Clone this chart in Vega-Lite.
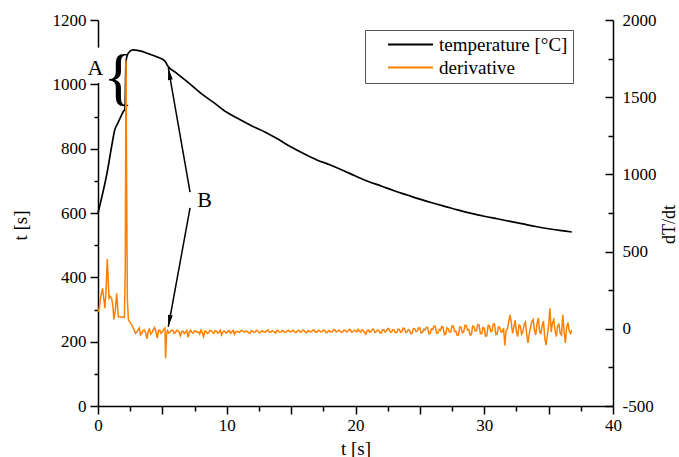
{
  "$schema": "https://vega.github.io/schema/vega-lite/v6.json",
  "width": 515,
  "height": 386,
  "autosize": {"type": "none"},
  "padding": {"left": 98, "top": 20, "right": 66, "bottom": 51},
  "background": "white",
  "config": {
    "font": "Liberation Serif",
    "view": {"stroke": null},
    "axis": {
      "grid": false,
      "domainColor": "black",
      "tickColor": "black",
      "labelColor": "black",
      "titleColor": "black",
      "labelFont": "Liberation Serif",
      "titleFont": "Liberation Serif",
      "labelFontSize": 17,
      "titleFontSize": 18,
      "titleFontWeight": "normal",
      "domainWidth": 1.5,
      "tickWidth": 1.5
    }
  },
  "datasets": {
    "temp": [
      {"t": 0, "T": 600}, {"t": 0.3, "T": 650}, {"t": 0.7, "T": 724}, {"t": 1.05, "T": 805},
      {"t": 1.3, "T": 858}, {"t": 1.55, "T": 880}, {"t": 1.95, "T": 914}, {"t": 2.1, "T": 926},
      {"t": 2.17, "T": 1070}, {"t": 2.35, "T": 1097}, {"t": 2.7, "T": 1107}, {"t": 3.25, "T": 1104},
      {"t": 4.0, "T": 1094}, {"t": 4.6, "T": 1085}, {"t": 5.2, "T": 1072}, {"t": 5.4, "T": 1058},
      {"t": 6, "T": 1038}, {"t": 7, "T": 1006}, {"t": 8, "T": 972}, {"t": 9, "T": 943},
      {"t": 10, "T": 913}, {"t": 11, "T": 891}, {"t": 12, "T": 870}, {"t": 13, "T": 851},
      {"t": 14, "T": 829}, {"t": 15, "T": 805}, {"t": 16, "T": 784}, {"t": 17, "T": 765},
      {"t": 18, "T": 750}, {"t": 19, "T": 733}, {"t": 20, "T": 715}, {"t": 21, "T": 698},
      {"t": 22, "T": 684}, {"t": 23, "T": 669}, {"t": 24, "T": 656}, {"t": 25, "T": 643},
      {"t": 26, "T": 631}, {"t": 27, "T": 620}, {"t": 28, "T": 609}, {"t": 29, "T": 599},
      {"t": 30, "T": 590}, {"t": 31, "T": 582}, {"t": 32, "T": 574}, {"t": 33, "T": 566},
      {"t": 34, "T": 558}, {"t": 35, "T": 551}, {"t": 36, "T": 545}, {"t": 36.8, "T": 541}
    ],
    "deriv": [
      {"t": 0, "D": 110}, {"t": 0.1, "D": 133}, {"t": 0.2, "D": 200}, {"t": 0.36, "D": 262},
      {"t": 0.45, "D": 190}, {"t": 0.54, "D": 133}, {"t": 0.63, "D": 260}, {"t": 0.72, "D": 452},
      {"t": 0.8, "D": 300}, {"t": 0.86, "D": 197}, {"t": 0.95, "D": 210}, {"t": 1.06, "D": 197},
      {"t": 1.15, "D": 150}, {"t": 1.24, "D": 61}, {"t": 1.35, "D": 120}, {"t": 1.45, "D": 230},
      {"t": 1.52, "D": 150}, {"t": 1.58, "D": 78}, {"t": 1.8, "D": 76}, {"t": 2.05, "D": 74},
      {"t": 2.12, "D": 400}, {"t": 2.17, "D": 1740}, {"t": 2.22, "D": 1000}, {"t": 2.28, "D": 200},
      {"t": 2.36, "D": 57}, {"t": 2.5, "D": 40}, {"t": 2.62, "D": 25}, {"t": 2.7, "D": 10},
      {"t": 2.8, "D": -5}, {"t": 2.9, "D": -30},
      {"t": 3.0, "D": -22}, {"t": 3.1, "D": -8}, {"t": 3.2, "D": 5}, {"t": 3.3, "D": -40}, {"t": 3.4, "D": -30},
      {"t": 3.5, "D": -12}, {"t": 3.6, "D": -8}, {"t": 3.7, "D": -25}, {"t": 3.8, "D": -65}, {"t": 3.9, "D": -15},
      {"t": 4.0, "D": -2}, {"t": 4.1, "D": -35}, {"t": 4.2, "D": -25}, {"t": 4.3, "D": -5}, {"t": 4.4, "D": 8},
      {"t": 4.5, "D": -20}, {"t": 4.6, "D": -60}, {"t": 4.7, "D": -10}, {"t": 4.8, "D": -10}, {"t": 4.9, "D": -30},
      {"t": 5.0, "D": -20}, {"t": 5.1, "D": -5}, {"t": 5.2, "D": 5}, {"t": 5.25, "D": -190}, {"t": 5.32, "D": -40},
      {"t": 5.4, "D": -12}, {"t": 5.5, "D": -28}, {"t": 5.6, "D": -20}, {"t": 5.7, "D": -10}, {"t": 5.8, "D": -8}, {"t": 5.9, "D": -30},
      {"t": 6.0, "D": -25}, {"t": 6.1, "D": -10}, {"t": 6.2, "D": -12}, {"t": 6.3, "D": -20}, {"t": 6.4, "D": -45},
      {"t": 6.5, "D": -18}, {"t": 6.6, "D": -15}, {"t": 6.7, "D": -30}, {"t": 6.8, "D": -22}, {"t": 6.9, "D": -12},
      {"t": 7.0, "D": -55}, {"t": 7.1, "D": -20}, {"t": 7.2, "D": -10}, {"t": 7.3, "D": -25}, {"t": 7.4, "D": -28},
      {"t": 7.5, "D": -12}, {"t": 7.6, "D": -15}, {"t": 7.7, "D": -22}, {"t": 7.8, "D": -20}, {"t": 7.9, "D": -35},
      {"t": 8.0, "D": -8}, {"t": 8.1, "D": -25}, {"t": 8.2, "D": -50}, {"t": 8.3, "D": -14}, {"t": 8.4, "D": -18},
      {"t": 8.5, "D": -30}, {"t": 8.6, "D": -25}, {"t": 8.7, "D": -10}, {"t": 8.8, "D": -12}, {"t": 8.9, "D": -22},
      {"t": 9.0, "D": -30}, {"t": 9.1, "D": -12}, {"t": 9.2, "D": -15}, {"t": 9.3, "D": -28}, {"t": 9.4, "D": -22},
      {"t": 9.5, "D": -10}, {"t": 9.6, "D": -40}, {"t": 9.7, "D": -20}, {"t": 9.8, "D": -14}, {"t": 9.9, "D": -24},
      {"t": 10.0, "D": -26}, {"t": 10.1, "D": -14}, {"t": 10.2, "D": -12}, {"t": 10.3, "D": -30}, {"t": 10.4, "D": -20},
      {"t": 10.5, "D": -10}, {"t": 10.6, "D": -35}, {"t": 10.7, "D": -18}, {"t": 10.8, "D": -16}, {"t": 10.9, "D": -22},
      {"t": 11.0, "D": -24}, {"t": 11.1, "D": -12}, {"t": 11.2, "D": -10}, {"t": 11.3, "D": -20}, {"t": 11.4, "D": -22},
      {"t": 11.5, "D": -14}, {"t": 11.6, "D": -18}, {"t": 11.7, "D": -26}, {"t": 11.8, "D": -30}, {"t": 11.9, "D": -12},
      {"t": 12.0, "D": -14}, {"t": 12.1, "D": -24}, {"t": 12.2, "D": -22}, {"t": 12.3, "D": -10}, {"t": 12.4, "D": -12},
      {"t": 12.5, "D": -26}, {"t": 12.6, "D": -25}, {"t": 12.7, "D": -14}, {"t": 12.8, "D": -16}, {"t": 12.9, "D": -20},
      {"t": 13.0, "D": -20}, {"t": 13.1, "D": -12}, {"t": 13.2, "D": -8}, {"t": 13.3, "D": -22}, {"t": 13.4, "D": -24},
      {"t": 13.5, "D": -14}, {"t": 13.6, "D": -14}, {"t": 13.7, "D": -20}, {"t": 13.8, "D": -28}, {"t": 13.9, "D": -10},
      {"t": 14.0, "D": -12}, {"t": 14.1, "D": -22}, {"t": 14.2, "D": -20}, {"t": 14.3, "D": -10}, {"t": 14.4, "D": -15},
      {"t": 14.5, "D": -24}, {"t": 14.6, "D": -22}, {"t": 14.7, "D": -12}, {"t": 14.8, "D": -10}, {"t": 14.9, "D": -20},
      {"t": 15.0, "D": -18}, {"t": 15.1, "D": -10}, {"t": 15.2, "D": -14}, {"t": 15.3, "D": -22}, {"t": 15.4, "D": -24},
      {"t": 15.5, "D": -12}, {"t": 15.6, "D": -10}, {"t": 15.7, "D": -20}, {"t": 15.8, "D": -20}, {"t": 15.9, "D": -8},
      {"t": 16.0, "D": -12}, {"t": 16.1, "D": -22}, {"t": 16.2, "D": -26}, {"t": 16.3, "D": -12}, {"t": 16.4, "D": -14},
      {"t": 16.5, "D": -20}, {"t": 16.6, "D": -18}, {"t": 16.7, "D": -8}, {"t": 16.8, "D": -8}, {"t": 16.9, "D": -22},
      {"t": 17.0, "D": -22}, {"t": 17.1, "D": -10}, {"t": 17.2, "D": -12}, {"t": 17.3, "D": -20}, {"t": 17.4, "D": -18},
      {"t": 17.5, "D": -8}, {"t": 17.6, "D": -10}, {"t": 17.7, "D": -24}, {"t": 17.8, "D": -24}, {"t": 17.9, "D": -12},
      {"t": 18.0, "D": -14}, {"t": 18.1, "D": -22}, {"t": 18.2, "D": -20}, {"t": 18.3, "D": -6}, {"t": 18.4, "D": -8},
      {"t": 18.5, "D": -20}, {"t": 18.6, "D": -16}, {"t": 18.7, "D": -10}, {"t": 18.8, "D": -12}, {"t": 18.9, "D": -24},
      {"t": 19.0, "D": -22}, {"t": 19.1, "D": -8}, {"t": 19.2, "D": -10}, {"t": 19.3, "D": -20}, {"t": 19.4, "D": -18},
      {"t": 19.5, "D": -4}, {"t": 19.6, "D": -6}, {"t": 19.7, "D": -22}, {"t": 19.8, "D": -20}, {"t": 19.9, "D": -10},
      {"t": 20.0, "D": -12}, {"t": 20.1, "D": -20}, {"t": 20.2, "D": -4}, {"t": 20.3, "D": -14}, {"t": 20.4, "D": -22},
      {"t": 20.5, "D": -6}, {"t": 20.6, "D": -10}, {"t": 20.7, "D": -24}, {"t": 20.8, "D": -35}, {"t": 20.9, "D": -12},
      {"t": 21.0, "D": -8}, {"t": 21.1, "D": -22}, {"t": 21.2, "D": -18}, {"t": 21.3, "D": -4}, {"t": 21.4, "D": -2},
      {"t": 21.5, "D": -24}, {"t": 21.6, "D": -20}, {"t": 21.7, "D": -8}, {"t": 21.8, "D": -10}, {"t": 21.9, "D": -26},
      {"t": 22.0, "D": -28}, {"t": 22.1, "D": -6}, {"t": 22.2, "D": -6}, {"t": 22.3, "D": -22}, {"t": 22.4, "D": -16},
      {"t": 22.5, "D": 2}, {"t": 22.6, "D": 0}, {"t": 22.7, "D": -20}, {"t": 22.8, "D": -22}, {"t": 22.9, "D": -6},
      {"t": 23.0, "D": -8}, {"t": 23.1, "D": -26}, {"t": 23.2, "D": -25}, {"t": 23.3, "D": -2}, {"t": 23.4, "D": -4},
      {"t": 23.5, "D": -22}, {"t": 23.6, "D": -18}, {"t": 23.7, "D": 4}, {"t": 23.8, "D": 2}, {"t": 23.9, "D": -24},
      {"t": 24.0, "D": -20}, {"t": 24.1, "D": -6}, {"t": 24.2, "D": -10}, {"t": 24.3, "D": -32}, {"t": 24.4, "D": -30},
      {"t": 24.5, "D": 2}, {"t": 24.6, "D": 0}, {"t": 24.7, "D": -18}, {"t": 24.8, "D": -14}, {"t": 24.9, "D": 6},
      {"t": 25.0, "D": 5}, {"t": 25.1, "D": -28}, {"t": 25.2, "D": -25}, {"t": 25.3, "D": -2}, {"t": 25.4, "D": -8},
      {"t": 25.5, "D": 10}, {"t": 25.6, "D": 8}, {"t": 25.7, "D": -32}, {"t": 25.8, "D": -30}, {"t": 25.9, "D": 0},
      {"t": 26.0, "D": -5}, {"t": 26.1, "D": 18}, {"t": 26.2, "D": 15}, {"t": 26.3, "D": -30}, {"t": 26.4, "D": -28},
      {"t": 26.5, "D": -4}, {"t": 26.6, "D": -10}, {"t": 26.7, "D": 15}, {"t": 26.8, "D": 12}, {"t": 26.9, "D": -38},
      {"t": 27.0, "D": -35}, {"t": 27.1, "D": 6}, {"t": 27.2, "D": 2}, {"t": 27.3, "D": -22}, {"t": 27.4, "D": -20},
      {"t": 27.5, "D": 20}, {"t": 27.6, "D": 18}, {"t": 27.7, "D": -18}, {"t": 27.8, "D": -15}, {"t": 27.9, "D": -42},
      {"t": 28.0, "D": -40}, {"t": 28.1, "D": 12}, {"t": 28.2, "D": 10}, {"t": 28.3, "D": -25}, {"t": 28.4, "D": -22},
      {"t": 28.5, "D": 22}, {"t": 28.6, "D": 20}, {"t": 28.7, "D": -8}, {"t": 28.8, "D": -5}, {"t": 28.9, "D": -40},
      {"t": 29.0, "D": -38}, {"t": 29.1, "D": 18}, {"t": 29.2, "D": 15}, {"t": 29.3, "D": -15}, {"t": 29.4, "D": -12},
      {"t": 29.5, "D": 28}, {"t": 29.6, "D": 25}, {"t": 29.7, "D": -32}, {"t": 29.8, "D": -30}, {"t": 29.9, "D": 8},
      {"t": 30.0, "D": 5}, {"t": 30.1, "D": -48}, {"t": 30.2, "D": -45}, {"t": 30.3, "D": 22}, {"t": 30.4, "D": 20},
      {"t": 30.5, "D": -18}, {"t": 30.6, "D": -15}, {"t": 30.7, "D": 32}, {"t": 30.8, "D": 30}, {"t": 30.9, "D": -38},
      {"t": 31.0, "D": -35}, {"t": 31.1, "D": 12}, {"t": 31.2, "D": 10}, {"t": 31.3, "D": -22}, {"t": 31.4, "D": -20},
      {"t": 31.5, "D": 5}, {"t": 31.6, "D": -108}, {"t": 31.7, "D": -10}, {"t": 31.8, "D": 0}, {"t": 31.9, "D": 45},
      {"t": 32.0, "D": 90}, {"t": 32.1, "D": 40}, {"t": 32.2, "D": -30}, {"t": 32.3, "D": 10}, {"t": 32.4, "D": 55},
      {"t": 32.5, "D": -20}, {"t": 32.6, "D": -50}, {"t": 32.7, "D": 25}, {"t": 32.8, "D": 20}, {"t": 32.9, "D": -35},
      {"t": 33.0, "D": -20}, {"t": 33.1, "D": 30}, {"t": 33.2, "D": 45}, {"t": 33.3, "D": -40}, {"t": 33.4, "D": -92},
      {"t": 33.5, "D": -30}, {"t": 33.6, "D": 10}, {"t": 33.7, "D": 48}, {"t": 33.8, "D": 60}, {"t": 33.9, "D": -10},
      {"t": 34.0, "D": -40}, {"t": 34.1, "D": 35}, {"t": 34.2, "D": 70}, {"t": 34.3, "D": -20}, {"t": 34.4, "D": -30},
      {"t": 34.5, "D": 20}, {"t": 34.6, "D": 50}, {"t": 34.7, "D": -60}, {"t": 34.8, "D": -105}, {"t": 34.9, "D": -40},
      {"t": 35.0, "D": 20}, {"t": 35.1, "D": 133}, {"t": 35.2, "D": -20}, {"t": 35.3, "D": 40}, {"t": 35.4, "D": 60},
      {"t": 35.5, "D": -10}, {"t": 35.6, "D": -50}, {"t": 35.7, "D": 20}, {"t": 35.8, "D": 30}, {"t": 35.9, "D": -30},
      {"t": 36.0, "D": -40}, {"t": 36.1, "D": 90}, {"t": 36.2, "D": -20}, {"t": 36.3, "D": -92}, {"t": 36.4, "D": 10},
      {"t": 36.5, "D": 40}, {"t": 36.6, "D": -15}, {"t": 36.7, "D": -30}, {"t": 36.8, "D": -10}
    ],
    "notes": [
      {"t": -0.2, "T": 1051, "label": "A"},
      {"t": 8.27, "T": 639, "label": "B"}
    ],
    "noteBox": [
      {"t": -0.95, "t2": 0.55, "T": 1004, "T2": 1114}
    ],
    "brace": [
      {"t": 1.6, "T": 1017, "label": "{"}
    ],
    "arrows": [
      {"id": 1, "t": 7.15, "T": 665, "t2": 5.46, "T2": 1051},
      {"id": 2, "t": 7.15, "T": 616, "t2": 5.46, "T2": 246}
    ]
  },
  "layer": [
    {
      "layer": [
        {
          "data": {"name": "temp"},
          "mark": {"type": "line", "strokeWidth": 1.7, "interpolate": "monotone"},
          "encoding": {
            "x": {
              "field": "t", "type": "quantitative",
              "scale": {"domain": [0, 40], "nice": false},
              "axis": {
                "title": "t [s]",
                "values": [0, 2.5, 5, 7.5, 10, 12.5, 15, 17.5, 20, 22.5, 25, 27.5, 30, 32.5, 35, 37.5, 40],
                "labelExpr": "datum.value % 10 === 0 ? '' + datum.value : ''",
                "tickSize": {"condition": {"test": "datum.value % 5 === 0", "value": 8}, "value": 5},
                "labelPadding": 3, "labelFlush": false, "titleFontSize": 19,
                "titleBaseline": "middle", "titleY": 42
              }
            },
            "y": {
              "field": "T", "type": "quantitative",
              "scale": {"domain": [0, 1200], "nice": false},
              "axis": {
                "title": "t [s]", "orient": "left",
                "values": [0, 100, 200, 300, 400, 500, 600, 700, 800, 900, 1000, 1100, 1200],
                "labelExpr": "datum.value % 200 === 0 ? '' + datum.value : ''",
                "tickSize": {"condition": {"test": "datum.value % 200 === 0", "value": 8}, "value": 4},
                "labelPadding": 4, "labelFlush": false, "titleFontSize": 19,
                "titleAngle": 270, "titleAlign": "center", "titleBaseline": "middle",
                "titleX": -78, "titleY": 205
              }
            },
            "color": {
              "datum": "temperature [°C]",
              "type": "nominal",
              "scale": {"domain": ["temperature [°C]", "derivative"], "range": ["black", "#ff8000"]},
              "legend": {
                "orient": "none", "legendX": 267, "legendY": 10, "title": null,
                "symbolType": "stroke", "symbolSize": 2025, "symbolStrokeWidth": 2,
                "clipHeight": 19, "labelFont": "Liberation Serif", "labelFontSize": 19,
                "labelColor": "black", "labelOffset": 5, "symbolOffset": 17,
                "rowPadding": 3, "padding": 5, "strokeColor": "#555", "fillColor": "white"
              }
            }
          }
        },
        {
          "data": {"name": "noteBox"},
          "mark": {"type": "rect", "color": "white", "opacity": 1},
          "encoding": {
            "x": {
              "field": "t", "type": "quantitative",
              "scale": {"domain": [0, 40], "nice": false},
              "axis": {
                "title": "t [s]",
                "values": [0, 2.5, 5, 7.5, 10, 12.5, 15, 17.5, 20, 22.5, 25, 27.5, 30, 32.5, 35, 37.5, 40],
                "labelExpr": "datum.value % 10 === 0 ? '' + datum.value : ''",
                "tickSize": {"condition": {"test": "datum.value % 5 === 0", "value": 8}, "value": 5},
                "labelPadding": 3, "labelFlush": false, "titleFontSize": 19,
                "titleBaseline": "middle", "titleY": 42
              }
            },
            "x2": {"field": "t2"},
            "y": {
              "field": "T", "type": "quantitative",
              "scale": {"domain": [0, 1200], "nice": false},
              "axis": {
                "title": "t [s]", "orient": "left",
                "values": [0, 100, 200, 300, 400, 500, 600, 700, 800, 900, 1000, 1100, 1200],
                "labelExpr": "datum.value % 200 === 0 ? '' + datum.value : ''",
                "tickSize": {"condition": {"test": "datum.value % 200 === 0", "value": 8}, "value": 4},
                "labelPadding": 4, "labelFlush": false, "titleFontSize": 19,
                "titleAngle": 270, "titleAlign": "center", "titleBaseline": "middle",
                "titleX": -78, "titleY": 205
              }
            },
            "y2": {"field": "T2"}
          }
        },
        {
          "data": {"name": "notes"},
          "mark": {"type": "text", "font": "Liberation Serif", "fontSize": 22, "color": "black"},
          "encoding": {
            "x": {
              "field": "t", "type": "quantitative",
              "scale": {"domain": [0, 40], "nice": false},
              "axis": {
                "title": "t [s]",
                "values": [0, 2.5, 5, 7.5, 10, 12.5, 15, 17.5, 20, 22.5, 25, 27.5, 30, 32.5, 35, 37.5, 40],
                "labelExpr": "datum.value % 10 === 0 ? '' + datum.value : ''",
                "tickSize": {"condition": {"test": "datum.value % 5 === 0", "value": 8}, "value": 5},
                "labelPadding": 3, "labelFlush": false, "titleFontSize": 19,
                "titleBaseline": "middle", "titleY": 42
              }
            },
            "y": {
              "field": "T", "type": "quantitative",
              "scale": {"domain": [0, 1200], "nice": false},
              "axis": {
                "title": "t [s]", "orient": "left",
                "values": [0, 100, 200, 300, 400, 500, 600, 700, 800, 900, 1000, 1100, 1200],
                "labelExpr": "datum.value % 200 === 0 ? '' + datum.value : ''",
                "tickSize": {"condition": {"test": "datum.value % 200 === 0", "value": 8}, "value": 4},
                "labelPadding": 4, "labelFlush": false, "titleFontSize": 19,
                "titleAngle": 270, "titleAlign": "center", "titleBaseline": "middle",
                "titleX": -78, "titleY": 205
              }
            },
            "text": {"field": "label"}
          }
        },
        {
          "data": {"name": "brace"},
          "mark": {"type": "text", "font": "Liberation Serif", "fontSize": 64, "color": "black"},
          "encoding": {
            "x": {
              "field": "t", "type": "quantitative",
              "scale": {"domain": [0, 40], "nice": false},
              "axis": {
                "title": "t [s]",
                "values": [0, 2.5, 5, 7.5, 10, 12.5, 15, 17.5, 20, 22.5, 25, 27.5, 30, 32.5, 35, 37.5, 40],
                "labelExpr": "datum.value % 10 === 0 ? '' + datum.value : ''",
                "tickSize": {"condition": {"test": "datum.value % 5 === 0", "value": 8}, "value": 5},
                "labelPadding": 3, "labelFlush": false, "titleFontSize": 19,
                "titleBaseline": "middle", "titleY": 42
              }
            },
            "y": {
              "field": "T", "type": "quantitative",
              "scale": {"domain": [0, 1200], "nice": false},
              "axis": {
                "title": "t [s]", "orient": "left",
                "values": [0, 100, 200, 300, 400, 500, 600, 700, 800, 900, 1000, 1100, 1200],
                "labelExpr": "datum.value % 200 === 0 ? '' + datum.value : ''",
                "tickSize": {"condition": {"test": "datum.value % 200 === 0", "value": 8}, "value": 4},
                "labelPadding": 4, "labelFlush": false, "titleFontSize": 19,
                "titleAngle": 270, "titleAlign": "center", "titleBaseline": "middle",
                "titleX": -78, "titleY": 205
              }
            },
            "text": {"field": "label"}
          }
        },
        {
          "data": {"name": "arrows"},
          "mark": {"type": "rule", "strokeWidth": 1.5, "color": "black"},
          "encoding": {
            "x": {
              "field": "t", "type": "quantitative",
              "scale": {"domain": [0, 40], "nice": false},
              "axis": {
                "title": "t [s]",
                "values": [0, 2.5, 5, 7.5, 10, 12.5, 15, 17.5, 20, 22.5, 25, 27.5, 30, 32.5, 35, 37.5, 40],
                "labelExpr": "datum.value % 10 === 0 ? '' + datum.value : ''",
                "tickSize": {"condition": {"test": "datum.value % 5 === 0", "value": 8}, "value": 5},
                "labelPadding": 3, "labelFlush": false, "titleFontSize": 19,
                "titleBaseline": "middle", "titleY": 42
              }
            },
            "y": {
              "field": "T", "type": "quantitative",
              "scale": {"domain": [0, 1200], "nice": false},
              "axis": {
                "title": "t [s]", "orient": "left",
                "values": [0, 100, 200, 300, 400, 500, 600, 700, 800, 900, 1000, 1100, 1200],
                "labelExpr": "datum.value % 200 === 0 ? '' + datum.value : ''",
                "tickSize": {"condition": {"test": "datum.value % 200 === 0", "value": 8}, "value": 4},
                "labelPadding": 4, "labelFlush": false, "titleFontSize": 19,
                "titleAngle": 270, "titleAlign": "center", "titleBaseline": "middle",
                "titleX": -78, "titleY": 205
              }
            },
            "x2": {"field": "t2"},
            "y2": {"field": "T2"}
          }
        },
        {
          "data": {"name": "arrows"},
          "transform": [{"filter": "datum.id === 1"}],
          "mark": {"type": "point", "shape": "M0,0L0.4,2L-0.4,2Z", "size": 144, "filled": true, "color": "black", "opacity": 1, "angle": 350},
          "encoding": {
            "x": {
              "field": "t2", "type": "quantitative",
              "scale": {"domain": [0, 40], "nice": false},
              "axis": {
                "title": "t [s]",
                "values": [0, 2.5, 5, 7.5, 10, 12.5, 15, 17.5, 20, 22.5, 25, 27.5, 30, 32.5, 35, 37.5, 40],
                "labelExpr": "datum.value % 10 === 0 ? '' + datum.value : ''",
                "tickSize": {"condition": {"test": "datum.value % 5 === 0", "value": 8}, "value": 5},
                "labelPadding": 3, "labelFlush": false, "titleFontSize": 19,
                "titleBaseline": "middle", "titleY": 42
              }
            },
            "y": {
              "field": "T2", "type": "quantitative",
              "scale": {"domain": [0, 1200], "nice": false},
              "axis": {
                "title": "t [s]", "orient": "left",
                "values": [0, 100, 200, 300, 400, 500, 600, 700, 800, 900, 1000, 1100, 1200],
                "labelExpr": "datum.value % 200 === 0 ? '' + datum.value : ''",
                "tickSize": {"condition": {"test": "datum.value % 200 === 0", "value": 8}, "value": 4},
                "labelPadding": 4, "labelFlush": false, "titleFontSize": 19,
                "titleAngle": 270, "titleAlign": "center", "titleBaseline": "middle",
                "titleX": -78, "titleY": 205
              }
            }
          }
        },
        {
          "data": {"name": "arrows"},
          "transform": [{"filter": "datum.id === 2"}],
          "mark": {"type": "point", "shape": "M0,0L0.4,2L-0.4,2Z", "size": 144, "filled": true, "color": "black", "opacity": 1, "angle": 190},
          "encoding": {
            "x": {
              "field": "t2", "type": "quantitative",
              "scale": {"domain": [0, 40], "nice": false},
              "axis": {
                "title": "t [s]",
                "values": [0, 2.5, 5, 7.5, 10, 12.5, 15, 17.5, 20, 22.5, 25, 27.5, 30, 32.5, 35, 37.5, 40],
                "labelExpr": "datum.value % 10 === 0 ? '' + datum.value : ''",
                "tickSize": {"condition": {"test": "datum.value % 5 === 0", "value": 8}, "value": 5},
                "labelPadding": 3, "labelFlush": false, "titleFontSize": 19,
                "titleBaseline": "middle", "titleY": 42
              }
            },
            "y": {
              "field": "T2", "type": "quantitative",
              "scale": {"domain": [0, 1200], "nice": false},
              "axis": {
                "title": "t [s]", "orient": "left",
                "values": [0, 100, 200, 300, 400, 500, 600, 700, 800, 900, 1000, 1100, 1200],
                "labelExpr": "datum.value % 200 === 0 ? '' + datum.value : ''",
                "tickSize": {"condition": {"test": "datum.value % 200 === 0", "value": 8}, "value": 4},
                "labelPadding": 4, "labelFlush": false, "titleFontSize": 19,
                "titleAngle": 270, "titleAlign": "center", "titleBaseline": "middle",
                "titleX": -78, "titleY": 205
              }
            }
          }
        }
      ]
    },
    {
      "data": {"name": "deriv"},
      "mark": {"type": "line", "strokeWidth": 1.5},
      "encoding": {
        "x": {
          "field": "t", "type": "quantitative",
          "scale": {"domain": [0, 40], "nice": false},
          "axis": {
            "title": "t [s]",
            "values": [0, 2.5, 5, 7.5, 10, 12.5, 15, 17.5, 20, 22.5, 25, 27.5, 30, 32.5, 35, 37.5, 40],
            "labelExpr": "datum.value % 10 === 0 ? '' + datum.value : ''",
            "tickSize": {"condition": {"test": "datum.value % 5 === 0", "value": 8}, "value": 5},
            "labelPadding": 3, "labelFlush": false, "titleFontSize": 19,
            "titleBaseline": "middle", "titleY": 42
          }
        },
        "y": {
          "field": "D", "type": "quantitative",
          "scale": {"domain": [-500, 2000], "nice": false},
          "axis": {
            "title": "dT/dt", "orient": "right",
            "values": [-500, -250, 0, 250, 500, 750, 1000, 1250, 1500, 1750, 2000],
            "labelExpr": "datum.value % 500 === 0 ? '' + datum.value : ''",
            "tickSize": {"condition": {"test": "datum.value % 500 === 0", "value": -8}, "value": -5},
            "labelPadding": 17, "labelFlush": false, "titleFontSize": 18,
            "titleAngle": 270, "titleAlign": "center", "titleBaseline": "middle",
            "titleX": 56, "titleY": 204
          }
        },
        "color": {"datum": "derivative", "type": "nominal"}
      }
    }
  ],
  "resolve": {"scale": {"y": "independent"}}
}
